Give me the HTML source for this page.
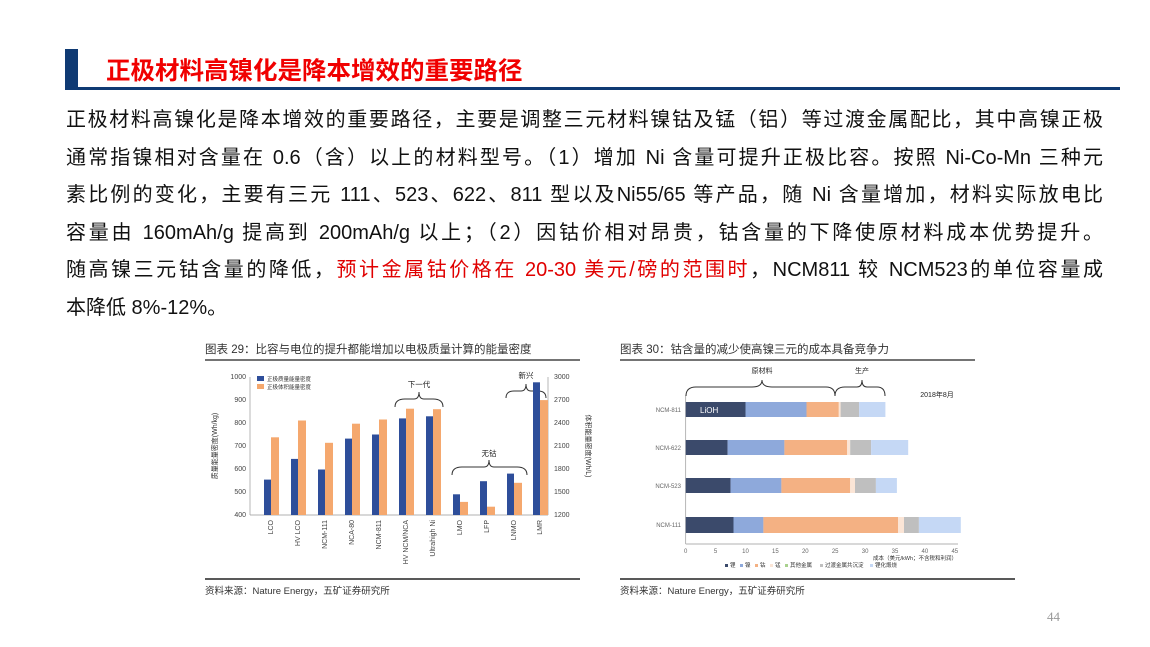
<!DOCTYPE html>
<html><head><meta charset="utf-8">
<style>
body{margin:0;width:1150px;height:647px;background:#fff;position:relative;overflow:hidden;font-family:"Liberation Sans","Noto Sans CJK SC",sans-serif;}
.bar{position:absolute;left:65px;top:49px;width:13px;height:41px;background:#0f3a73;}
.uline{position:absolute;left:65px;top:87px;width:1055px;height:3px;background:#0f3a73;}
.title{position:absolute;left:106px;top:52px;font-size:24.5px;font-weight:bold;color:#f00000;letter-spacing:0px;white-space:nowrap;}
.body{position:absolute;left:66px;top:102px;width:1037px;font-size:20px;color:#111;}
.body div{height:37.5px;line-height:37.5px;text-align:justify;text-align-last:justify;white-space:nowrap;}
.body div.last{text-align-last:left;}
.red{color:#e00000;}
svg{position:absolute;left:0;top:0;}
</style></head><body>
<div class="bar"></div><div class="uline"></div>
<div class="title">正极材料高镍化是降本增效的重要路径</div>
<div class="body">
<div>正极材料高镍化是降本增效的重要路径，主要是调整三元材料镍钴及锰（铝）等过渡金属配比，其中高镍正极</div>
<div>通常指镍相对含量在 0.6（含）以上的材料型号。（1）增加 Ni 含量可提升正极比容。按照 Ni-Co-Mn 三种元</div>
<div>素比例的变化，主要有三元 111、523、622、811 型以及Ni55/65 等产品，随 Ni 含量增加，材料实际放电比</div>
<div>容量由 160mAh/g 提高到 200mAh/g 以上；（2）因钴价相对昂贵，钴含量的下降使原材料成本优势提升。</div>
<div>随高镍三元钴含量的降低，<span class="red">预计金属钴价格在 20-30 美元/磅的范围时</span>，NCM811 较 NCM523的单位容量成</div>
<div class="last">本降低 8%-12%。</div>
</div>
<svg width="1150" height="647" font-family="Liberation Sans, Noto Sans CJK SC, sans-serif">
<!-- chart 1 -->
<text x="205" y="353" font-size="11.5" fill="#333">图表 29：比容与电位的提升都能增加以电极质量计算的能量密度</text>
<line x1="205" y1="360" x2="580" y2="360" stroke="#222" stroke-width="1.2"/>
<line x1="250" y1="377" x2="250" y2="515" stroke="#999" stroke-width="0.7"/>
<line x1="548" y1="377" x2="548" y2="515" stroke="#999" stroke-width="0.7"/>
<line x1="250" y1="515" x2="548" y2="515" stroke="#999" stroke-width="0.7"/>
<g font-size="7" fill="#444" text-anchor="end">
<text x="246" y="379">1000</text><text x="246" y="402">900</text><text x="246" y="425">800</text><text x="246" y="448">700</text><text x="246" y="471">600</text><text x="246" y="494">500</text><text x="246" y="517">400</text>
</g>
<g font-size="7" fill="#444">
<text x="554" y="379">3000</text><text x="554" y="402">2700</text><text x="554" y="425">2400</text><text x="554" y="448">2100</text><text x="554" y="471">1800</text><text x="554" y="494">1500</text><text x="554" y="517">1200</text>
</g>
<text transform="translate(217,446) rotate(-90)" font-size="7" fill="#333" text-anchor="middle">质量能量密度(Wh/kg)</text>
<text transform="translate(586,446) rotate(90)" font-size="7" fill="#333" text-anchor="middle">体积能量密度(Wh/L)</text>
<rect x="257" y="376" width="7" height="5" fill="#2e4e9a"/><text x="267" y="381" font-size="5.5" fill="#333">正极质量能量密度</text>
<rect x="257" y="384" width="7" height="5" fill="#f5a86e"/><text x="267" y="389" font-size="5.5" fill="#333">正极体积能量密度</text>
<g fill="none" stroke="#333" stroke-width="1">
<path d="M395,407 Q395,399 405,399 L414,399 Q419,399 419,392 Q419,399 424,399 L433,399 Q443,399 443,407"/>
<path d="M452,475 Q452,467 462,467 L484,467 Q489,467 489,460 Q489,467 494,467 L517,467 Q527,467 527,475"/>
<path d="M506,398 Q506,391 514,391 L521,391 Q526,391 526,384 Q526,391 531,391 L538,391 Q546,391 546,398"/>
</g>
<g font-size="7.5" fill="#222" text-anchor="middle">
<text x="419" y="387">下一代</text><text x="489" y="456">无钴</text><text x="526" y="378">新兴</text>
</g>
<line x1="205" y1="579" x2="580" y2="579" stroke="#222" stroke-width="1.4"/>
<text x="205" y="594" font-size="9.5" fill="#333">资料来源：Nature Energy，五矿证券研究所</text>

<!-- chart 2 -->
<text x="620" y="353" font-size="11.5" fill="#333">图表 30：钴含量的减少使高镍三元的成本具备竞争力</text>
<line x1="620" y1="360" x2="975" y2="360" stroke="#222" stroke-width="1.2"/>
<line x1="685.7" y1="395" x2="685.7" y2="544" stroke="#999" stroke-width="0.7"/>
<line x1="685.7" y1="544" x2="958" y2="544" stroke="#999" stroke-width="0.7"/>
<g font-size="6" fill="#666" text-anchor="middle">
<text x="685.7" y="553">0</text><text x="715.6" y="553">5</text><text x="745.5" y="553">10</text><text x="775.4" y="553">15</text><text x="805.3" y="553">20</text><text x="835.2" y="553">25</text><text x="865.1" y="553">30</text><text x="895" y="553">35</text><text x="924.9" y="553">40</text><text x="954.8" y="553">45</text>
</g>
<text x="957" y="560" font-size="5.5" fill="#333" text-anchor="end">成本（美元/kWh；不含税和利润）</text>
<g font-size="5.5" fill="#333">
<rect x="725" y="564" width="3" height="3" fill="#3b4a6b"/><text x="730" y="567">锂</text>
<rect x="740" y="564" width="3" height="3" fill="#8ea9db"/><text x="745" y="567">镍</text>
<rect x="755" y="564" width="3" height="3" fill="#f4b183"/><text x="760" y="567">钴</text>
<rect x="770" y="564" width="3" height="3" fill="#fbe5d6"/><text x="775" y="567">锰</text>
<rect x="785" y="564" width="3" height="3" fill="#a9d18e"/><text x="790" y="567">其他金属</text>
<rect x="820" y="564" width="3" height="3" fill="#bfbfbf"/><text x="825" y="567">过渡金属共沉淀</text>
<rect x="870" y="564" width="3" height="3" fill="#c5d8f5"/><text x="875" y="567">锂化煅烧</text>
</g>
<g font-size="6" fill="#666" text-anchor="end">
<text x="681" y="412">NCM-811</text><text x="681" y="450">NCM-622</text><text x="681" y="488">NCM-523</text><text x="681" y="527">NCM-111</text>
</g>
<g fill="none" stroke="#333" stroke-width="1">
<path d="M686,396 Q686,387 696,387 L752,387 Q762,387 762,380 Q762,387 772,387 L826,387 Q835,387 835,396"/>
<path d="M835,396 Q835,387 845,387 L857,387 Q862,387 862,380 Q862,387 867,387 L877,387 Q885,387 885,396"/>
</g>
<g font-size="7" fill="#222" text-anchor="middle"><text x="762" y="373">原材料</text><text x="862" y="373">生产</text></g>
<text x="937" y="397" font-size="7" fill="#222" text-anchor="middle">2018年8月</text>
<line x1="620" y1="579" x2="1015" y2="579" stroke="#222" stroke-width="1.4"/>
<text x="620" y="594" font-size="9.5" fill="#333">资料来源：Nature Energy，五矿证券研究所</text>
<text x="1047" y="621" font-size="13" fill="#999" font-family="Liberation Serif, serif">44</text>

<g>
<rect x="264" y="479.6" width="7" height="35.4" fill="#2e4e9a"/><rect x="271" y="437.3" width="8" height="77.7" fill="#f5a86e"/>
<rect x="291" y="458.9" width="7" height="56.1" fill="#2e4e9a"/><rect x="298" y="420.5" width="8" height="94.5" fill="#f5a86e"/>
<rect x="318" y="469.5" width="7" height="45.5" fill="#2e4e9a"/><rect x="325" y="442.8" width="8" height="72.2" fill="#f5a86e"/>
<rect x="345" y="438.6" width="7" height="76.4" fill="#2e4e9a"/><rect x="352" y="423.7" width="8" height="91.3" fill="#f5a86e"/>
<rect x="372" y="434.5" width="7" height="80.5" fill="#2e4e9a"/><rect x="379" y="419.5" width="8" height="95.5" fill="#f5a86e"/>
<rect x="399" y="418.4" width="7" height="96.6" fill="#2e4e9a"/><rect x="406" y="408.7" width="8" height="106.3" fill="#f5a86e"/>
<rect x="426" y="416.3" width="7" height="98.7" fill="#2e4e9a"/><rect x="433" y="409.2" width="8" height="105.8" fill="#f5a86e"/>
<rect x="453" y="494.3" width="7" height="20.7" fill="#2e4e9a"/><rect x="460" y="501.9" width="8" height="13.1" fill="#f5a86e"/>
<rect x="480" y="481.2" width="7" height="33.8" fill="#2e4e9a"/><rect x="487" y="506.7" width="8" height="8.3" fill="#f5a86e"/>
<rect x="507" y="473.6" width="7" height="41.4" fill="#2e4e9a"/><rect x="514" y="482.8" width="8" height="32.2" fill="#f5a86e"/>
<rect x="533" y="382.3" width="7" height="132.7" fill="#2e4e9a"/><rect x="540" y="400.1" width="8" height="114.9" fill="#f5a86e"/>
</g>
<g>
<rect x="685.7" y="402" width="59.8" height="15" fill="#3b4a6b"/><rect x="745.5" y="402" width="61" height="15" fill="#8ea9db"/><rect x="806.5" y="402" width="32.3" height="15" fill="#f4b183"/><rect x="838.8" y="402" width="1.8" height="15" fill="#fbe5d6"/><rect x="840.6" y="402" width="18.5" height="15" fill="#bfbfbf"/><rect x="859.1" y="402" width="26.3" height="15" fill="#c5d8f5"/>
<rect x="685.7" y="440" width="41.9" height="15" fill="#3b4a6b"/><rect x="727.6" y="440" width="56.8" height="15" fill="#8ea9db"/><rect x="784.4" y="440" width="62.8" height="15" fill="#f4b183"/><rect x="847.2" y="440" width="3" height="15" fill="#fbe5d6"/><rect x="850.2" y="440" width="20.9" height="15" fill="#bfbfbf"/><rect x="871.1" y="440" width="37.1" height="15" fill="#c5d8f5"/>
<rect x="685.7" y="478" width="44.9" height="15" fill="#3b4a6b"/><rect x="730.6" y="478" width="50.8" height="15" fill="#8ea9db"/><rect x="781.4" y="478" width="68.8" height="15" fill="#f4b183"/><rect x="850.2" y="478" width="4.8" height="15" fill="#fbe5d6"/><rect x="855" y="478" width="20.9" height="15" fill="#bfbfbf"/><rect x="875.9" y="478" width="21" height="15" fill="#c5d8f5"/>
<rect x="685.7" y="517" width="47.8" height="16" fill="#3b4a6b"/><rect x="733.5" y="517" width="29.9" height="16" fill="#8ea9db"/><rect x="763.4" y="517" width="134.6" height="16" fill="#f4b183"/><rect x="898" y="517" width="6" height="16" fill="#fbe5d6"/><rect x="904" y="517" width="14.9" height="16" fill="#bfbfbf"/><rect x="918.9" y="517" width="41.9" height="16" fill="#c5d8f5"/>
</g>
<text x="700" y="413" font-size="8" fill="#fff">LiOH</text>
<g font-size="7" fill="#444" text-anchor="end">
<text transform="translate(273,520) rotate(-90)">LCO</text>
<text transform="translate(300,520) rotate(-90)">HV LCO</text>
<text transform="translate(327,520) rotate(-90)">NCM-111</text>
<text transform="translate(354,520) rotate(-90)">NCA-80</text>
<text transform="translate(381,520) rotate(-90)">NCM-811</text>
<text transform="translate(408,520) rotate(-90)">HV NCM/NCA</text>
<text transform="translate(435,520) rotate(-90)">Ultrahigh Ni</text>
<text transform="translate(462,520) rotate(-90)">LMO</text>
<text transform="translate(489,520) rotate(-90)">LFP</text>
<text transform="translate(516,520) rotate(-90)">LNMO</text>
<text transform="translate(542,520) rotate(-90)">LMR</text>
</g>
</svg>
</body></html>
